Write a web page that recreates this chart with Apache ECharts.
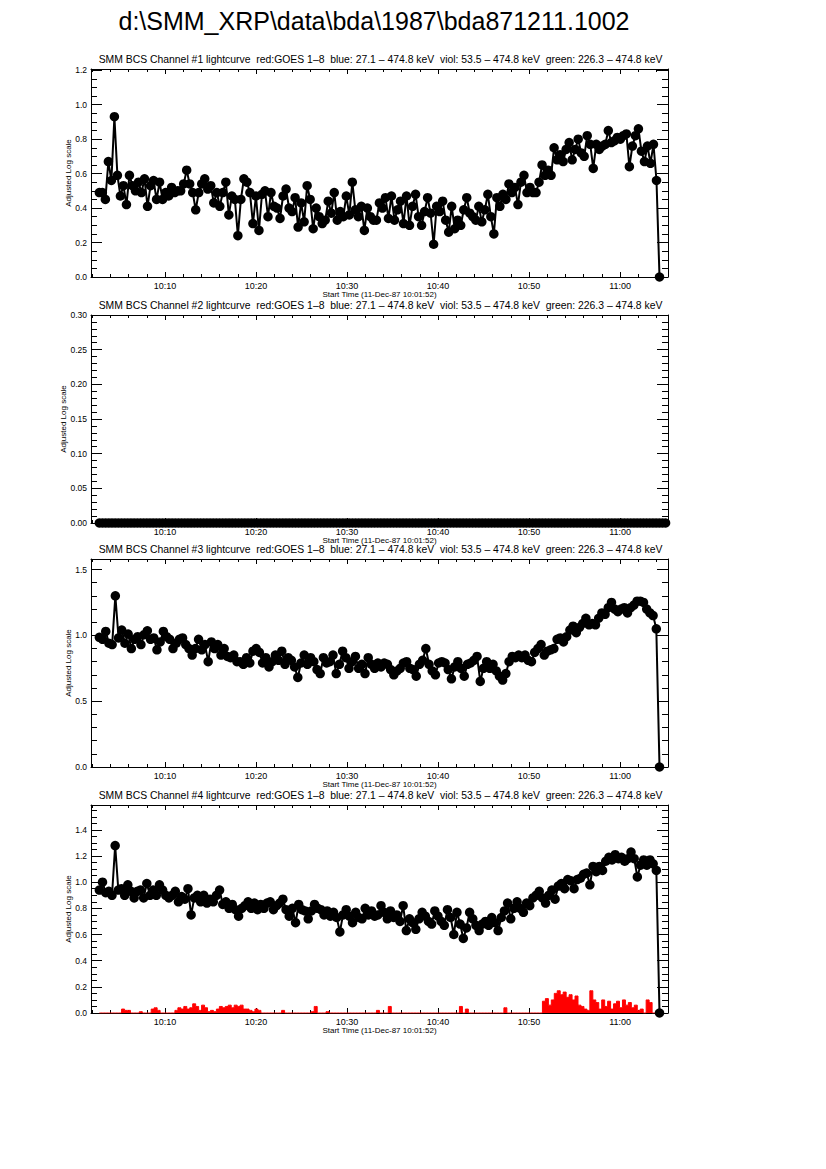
<!DOCTYPE html>
<html><head><meta charset="utf-8">
<script src="https://cdn.jsdelivr.net/npm/echarts@6/dist/echarts.min.js"></script>
<style>html,body{margin:0;padding:0;background:#fff}#c{width:826px;height:1169px}</style>
</head><body><div id="c"></div>
<script>
// ---------------- DATA ----------------
const MAIN_TITLE = 'd:\\SMM_XRP\\data\\bda\\1987\\bda871211.1002';
const PANEL_TITLES = [
  'SMM BCS Channel #1 lightcurve  red:GOES 1\u20138  blue: 27.1 \u2013 474.8 keV  viol: 53.5 \u2013 474.8 keV  green: 226.3 \u2013 474.8 keV',
  'SMM BCS Channel #2 lightcurve  red:GOES 1\u20138  blue: 27.1 \u2013 474.8 keV  viol: 53.5 \u2013 474.8 keV  green: 226.3 \u2013 474.8 keV',
  'SMM BCS Channel #3 lightcurve  red:GOES 1\u20138  blue: 27.1 \u2013 474.8 keV  viol: 53.5 \u2013 474.8 keV  green: 226.3 \u2013 474.8 keV',
  'SMM BCS Channel #4 lightcurve  red:GOES 1\u20138  blue: 27.1 \u2013 474.8 keV  viol: 53.5 \u2013 474.8 keV  green: 226.3 \u2013 474.8 keV'
];
const X_NAME = 'Start Time (11-Dec-87 10:01:52)';
const Y_NAME = 'Adjusted Log scale';
const AXIS_START = '10:01:52';
const AXIS_END = '11:05:16';
const DATA_START = '10:02:47';
const DATA_END = '11:04:20';
const CH2_END = '11:05:00';
const X_TICK_LABELS = ['10:10', '10:20', '10:30', '10:40', '10:50', '11:00'];

const ch1 = [
  0.49,0.49,0.45,0.67,0.56,0.93,0.59,0.47,0.53,0.42,
  0.59,0.53,0.50,0.55,0.49,0.57,0.41,0.53,0.56,0.45,
  0.55,0.45,0.49,0.47,0.52,0.49,0.50,0.50,0.54,0.62,
  0.54,0.49,0.39,0.49,0.54,0.57,0.51,0.53,0.43,0.49,
  0.41,0.49,0.55,0.36,0.47,0.45,0.24,0.45,0.57,0.55,
  0.49,0.31,0.47,0.27,0.48,0.50,0.35,0.49,0.41,0.40,
  0.34,0.47,0.51,0.40,0.38,0.46,0.29,0.43,0.32,0.53,
  0.45,0.28,0.40,0.35,0.31,0.33,0.44,0.37,0.49,0.33,
  0.38,0.35,0.47,0.36,0.55,0.39,0.35,0.41,0.27,0.40,
  0.35,0.33,
  0.33,0.43,0.40,0.46,0.34,0.47,0.33,0.39,0.44,0.31,
  0.47,0.30,0.41,0.48,0.35,0.30,0.38,0.46,0.37,0.19,
  0.41,0.38,0.44,0.33,0.26,0.41,0.28,0.33,0.30,0.39,
  0.46,0.37,0.35,0.33,0.41,0.32,0.39,0.48,0.35,0.25,
  0.46,0.41,0.48,0.45,0.54,0.49,0.52,0.42,0.55,0.59,
  0.49,0.52,0.49,0.49,0.55,0.65,0.59,0.62,0.59,0.75,
  0.68,0.71,0.67,0.74,0.78,0.68,0.74,0.80,0.72,0.70,
  0.82,0.77,0.63,0.77,0.74,0.76,0.77,0.85,0.78,0.79,
  0.81,0.80,0.82,0.83,0.64,0.76,0.82,0.86,0.73,0.67,
  0.76,0.66,0.77,0.56,0.00
];
const ch2 = [
  0,0,0,0,0,0,0,0,0,0, 0,0,0,0,0,0,0,0,0,0,
  0,0,0,0,0,0,0,0,0,0, 0,0,0,0,0,0,0,0,0,0,
  0,0,0,0,0,0,0,0,0,0, 0,0,0,0,0,0,0,0,0,0,
  0,0,0,0,0,0,0,0,0,0, 0,0,0,0,0,0,0,0,0,0,
  0,0,0,0,0,0,0,0,0,0, 0,0,0,0,0,0,0,0,0,0,
  0,0,0,0,0,0,0,0,0,0, 0,0,0,0,0,0,0,0,0,0,
  0,0,0,0,0,0,0,0,0,0, 0,0,0,0,0,0,0,0,0,0,
  0,0,0,0,0,0,0,0,0,0, 0,0,0,0,0,0,0,0,0,0,
  0,0,0,0,0,0,0,0,0,0, 0,0,0,0,0,0,0,0,0,0
];
const ch3 = [
  0.985,0.97,1.03,0.94,0.93,1.30,0.98,1.04,0.94,1.01,
  0.90,0.97,0.99,0.93,1.005,1.035,0.97,0.98,0.89,0.95,
  1.03,0.99,0.97,0.90,0.94,0.97,0.98,0.93,0.90,0.85,
  0.90,0.97,0.89,0.93,0.80,0.95,0.90,0.93,0.85,0.90,
  0.84,0.83,0.85,0.80,0.80,0.78,0.83,0.79,0.88,0.90,
  0.87,0.79,0.83,0.76,0.80,0.85,0.81,0.88,0.78,0.83,
  0.81,0.76,0.68,0.79,0.85,0.78,0.83,0.80,0.74,0.71,
  0.83,0.79,0.80,0.85,0.71,0.78,0.88,0.83,0.75,0.80,
  0.84,0.75,0.78,0.71,0.83,0.78,0.75,0.79,0.76,
  0.79,0.78,0.74,0.70,0.73,0.75,0.79,0.80,0.75,0.74,
  0.69,0.78,0.81,0.90,0.78,0.73,0.70,0.79,0.80,0.79,
  0.74,0.67,0.76,0.80,0.75,0.69,0.78,0.79,0.81,0.84,
  0.65,0.75,0.80,0.75,0.78,0.73,0.69,0.66,0.71,0.80,
  0.84,0.83,0.85,0.83,0.85,0.81,0.80,0.87,0.90,0.93,
  0.85,0.88,0.89,0.90,0.97,0.98,0.95,0.99,1.04,1.07,
  1.02,1.06,1.09,1.13,1.08,1.09,1.08,1.13,1.17,1.16,
  1.21,1.25,1.20,1.18,1.20,1.21,1.17,1.21,1.23,1.26,
  1.26,1.25,1.20,1.17,1.15,1.05,0.00
];
const ch4 = [
  0.94,1.00,0.92,0.93,0.90,1.28,0.94,0.95,0.90,0.98,
  0.93,0.88,0.93,0.94,0.88,0.99,0.90,0.94,0.90,0.98,
  0.94,0.90,0.88,0.90,0.93,0.85,0.89,0.87,0.95,0.75,
  0.88,0.90,0.85,0.90,0.84,0.87,0.85,0.90,0.94,0.83,
  0.85,0.80,0.83,0.79,0.74,0.80,0.82,0.85,0.80,0.84,
  0.79,0.83,0.80,0.84,0.85,0.79,0.82,0.84,0.87,0.79,
  0.74,0.80,0.69,0.83,0.79,0.78,0.72,0.78,0.83,0.80,
  0.79,0.75,0.78,0.74,0.77,0.73,0.62,0.75,0.79,0.74,
  0.69,0.77,0.73,0.72,0.80,0.75,
  0.78,0.74,0.75,0.82,0.77,0.72,0.78,0.73,0.75,0.70,
  0.82,0.63,0.72,0.69,0.64,0.72,0.77,0.74,0.70,0.68,
  0.78,0.74,0.70,0.67,0.79,0.73,0.60,0.77,0.68,0.57,
  0.65,0.77,0.72,0.67,0.63,0.68,0.70,0.67,0.73,0.69,
  0.63,0.73,0.78,0.84,0.72,0.80,0.85,0.80,0.77,0.84,
  0.82,0.88,0.90,0.93,0.88,0.84,0.90,0.94,0.87,0.97,
  0.99,0.95,1.02,1.01,0.95,1.02,1.03,1.06,1.07,0.98,
  1.12,1.08,1.12,1.09,1.16,1.19,1.17,1.21,1.18,1.19,
  1.16,1.18,1.23,1.18,1.04,1.13,1.17,1.13,1.17,1.14,
  1.09,0.00
];
const goes = [
  0,0,0,0,0,0,0,0,0.03,0.02, 0.02,0,0,0,0.01,0,0,0,0.03,0.04,
  0.02,0,0,0,0,0,0.02,0.04,0.03,0.05, 0.03,0.04,0.07,0.05,0.02,0.06,0.04,0.01,0.02,0.01,
  0.03,0.05,0.04,0.05,0.06,0.04,0.06,0.05,0.06,0.03, 0.03,0.02,0.01,0.03,0.02,0,0,0,0,0,
  0,0,0.02,0,0,0,0,0,0,0, 0,0,0.01,0.05,0,0,0,0.01,0,0,
  0,0,0,0,0,0,0,0,0,0, 0,0,0,0,0.02,0,0,0,0.05,0,
  0,0,0,0,0,0,0,0,0,0, 0,0,0,0,0,0,0,0,0,0,
  0,0,0.05,0,0.03,0,0,0,0,0, 0,0,0,0,0,0,0,0.04,0,0,
  0,0,0,0,0,0,0,0,0,0, 0.09,0.11,0.06,0.10,0.15,0.17,0.14,0.16,0.12,0.14,
  0.10,0.13,0.06,0.05,0.03,0.02,0.17,0.10,0.08,0.03, 0.10,0.05,0.09,0.03,0.07,0.09,0.04,0.10,0.06,0.08,
  0.04,0.06,0.02,0.03,0,0.10,0.08,0,0,0
];
const Y_TICKS = [
  [0, 0.2, 0.4, 0.6, 0.8, 1.0, 1.2],
  [0, 0.05, 0.10, 0.15, 0.20, 0.25, 0.30],
  [0, 0.5, 1.0, 1.5],
  [0, 0.2, 0.4, 0.6, 0.8, 1.0, 1.2, 1.4]
];
const Y_MINOR_STEP = [0.05, 0.01, 0.1, 0.05];
const Y_MAX = [1.207, 0.30, 1.58, 1.59];
const Y_DECIMALS = [1, 2, 1, 1];

// ---------------- LAYOUT ----------------
const GRID_LEFT = 91, GRID_W = 577, GRID_H = 208;
const GRID_TOPS = [69, 315, 559, 805];
const Y_NAME_GAP = [19, 24, 19, 19];
const FONT = 'Liberation Sans, Arial, Helvetica, sans-serif';

function toMin(s) { const p = s.split(':').map(Number); return (p[0] - 10) * 60 + p[1] + (p[2] || 0) / 60; }
const XMIN = toMin(AXIS_START), XMAX = toMin(AXIS_END);
const X_MAJOR = X_TICK_LABELS.map(toMin);
const X_MINOR = [];
for (let v = 2; v <= XMAX; v += 2) if (v > XMIN && v % 10 !== 0) X_MINOR.push(v);
function fmtTime(v) { const h = 10 + Math.floor(v / 60); const m = Math.round(v - Math.floor(v / 60) * 60); return h + ':' + String(m).padStart(2, '0'); }

function timed(arr, endStr) {
  const t0 = toMin(DATA_START), t1 = toMin(endStr || DATA_END);
  const n = arr.length;
  return arr.map((v, i) => [t0 + (t1 - t0) * i / (n - 1), v]);
}

const black = '#000';
const grids = [], xAxes = [], yAxes = [], series = [], graphics = [];

graphics.push({ type: 'text', x: 374, y: 21, style: { text: MAIN_TITLE, font: '25px ' + FONT, fill: black, textAlign: 'center', textVerticalAlign: 'middle' } });

const channels = [ch1, ch2, ch3, ch4];
for (let g = 0; g < 4; g++) {
  grids.push({ left: GRID_LEFT, top: GRID_TOPS[g], width: GRID_W, height: GRID_H, containLabel: false });
  graphics.push({ type: 'text', x: GRID_LEFT + GRID_W / 2 + 1, y: GRID_TOPS[g] - 10, style: { text: PANEL_TITLES[g], font: '10.4px ' + FONT, fill: black, textAlign: 'center', textVerticalAlign: 'middle' } });

  const base = { gridIndex: g, type: 'value', min: XMIN, max: XMAX, splitLine: { show: false } };
  xAxes.push(Object.assign({}, base, {
    position: 'bottom',
    axisLine: { show: true, onZero: false, lineStyle: { color: black, width: 1 } },
    axisTick: { show: true, inside: true, length: 5, customValues: X_MAJOR, lineStyle: { color: black, width: 1 } },
    axisLabel: { show: true, customValues: X_MAJOR, formatter: fmtTime, fontSize: 9, fontFamily: FONT, color: black, margin: 4 },
    name: X_NAME, nameLocation: 'middle', nameGap: 13, nameTextStyle: { fontSize: 8, fontFamily: FONT, color: black }
  }));
  xAxes.push(Object.assign({}, base, {
    position: 'bottom', axisLine: { show: false, onZero: false },
    axisTick: { show: true, inside: true, length: 3, customValues: X_MINOR, lineStyle: { color: black, width: 1 } },
    axisLabel: { show: false }
  }));
  xAxes.push(Object.assign({}, base, {
    position: 'top', axisLine: { show: true, onZero: false, lineStyle: { color: black, width: 1 } },
    axisTick: { show: true, inside: true, length: 5, customValues: X_MAJOR, lineStyle: { color: black, width: 1 } },
    axisLabel: { show: false }
  }));
  xAxes.push(Object.assign({}, base, {
    position: 'top', axisLine: { show: false, onZero: false },
    axisTick: { show: true, inside: true, length: 3, customValues: X_MINOR, lineStyle: { color: black, width: 1 } },
    axisLabel: { show: false }
  }));

  const yMajor = Y_TICKS[g];
  const yMinor = [];
  const st = Y_MINOR_STEP[g];
  for (let k = 1; k * st <= Y_MAX[g] + 1e-9; k++) {
    const v = +(k * st).toFixed(4);
    if (!yMajor.some(m => Math.abs(m - v) < 1e-6)) yMinor.push(v);
  }
  const ybase = { gridIndex: g, type: 'value', min: 0, max: Y_MAX[g], splitLine: { show: false } };
  const dec = Y_DECIMALS[g];
  yAxes.push(Object.assign({}, ybase, {
    position: 'left',
    axisLine: { show: true, onZero: false, lineStyle: { color: black, width: 1 } },
    axisTick: { show: true, inside: true, length: 11, customValues: yMajor, lineStyle: { color: black, width: 1 } },
    axisLabel: { show: true, customValues: yMajor, formatter: v => v.toFixed(dec), fontSize: 8.5, fontFamily: FONT, color: black, margin: 4 },
    name: Y_NAME, nameLocation: 'middle', nameRotate: 90, nameGap: Y_NAME_GAP[g], nameMoveOverlap: false,
    nameTextStyle: { fontSize: 8, fontFamily: FONT, color: black }
  }));
  yAxes.push(Object.assign({}, ybase, {
    position: 'left', axisLine: { show: false, onZero: false },
    axisTick: { show: true, inside: true, length: 6, customValues: yMinor, lineStyle: { color: black, width: 1 } },
    axisLabel: { show: false }
  }));
  yAxes.push(Object.assign({}, ybase, {
    position: 'right', axisLine: { show: true, onZero: false, lineStyle: { color: black, width: 1 } },
    axisTick: { show: true, inside: true, length: 11, customValues: yMajor, lineStyle: { color: black, width: 1 } },
    axisLabel: { show: false }
  }));
  yAxes.push(Object.assign({}, ybase, {
    position: 'right', axisLine: { show: false, onZero: false },
    axisTick: { show: true, inside: true, length: 6, customValues: yMinor, lineStyle: { color: black, width: 1 } },
    axisLabel: { show: false }
  }));

  if (g === 3) {
    series.push({
      type: 'line', xAxisIndex: 4 * g, yAxisIndex: 4 * g, data: timed(goes),
      symbol: 'none', step: 'middle', lineStyle: { color: '#ff0000', width: 1 },
      areaStyle: { color: '#ff0000', opacity: 1, origin: 'start' }, z: 2, clip: true, silent: true
    });
  }
  series.push({
    type: 'line', xAxisIndex: 4 * g, yAxisIndex: 4 * g, data: timed(channels[g], g === 1 ? CH2_END : DATA_END),
    symbol: 'circle', symbolSize: 9.5, showAllSymbol: true,
    lineStyle: { color: black, width: 2 }, itemStyle: { color: black },
    z: 3, clip: false, silent: true
  });
}

const chart = echarts.init(document.getElementById('c'), null, { renderer: 'svg' });
chart.setOption({
  animation: false,
  backgroundColor: '#fff',
  grid: grids, xAxis: xAxes, yAxis: yAxes, series: series,
  graphic: graphics
});
</script>
</body></html>
